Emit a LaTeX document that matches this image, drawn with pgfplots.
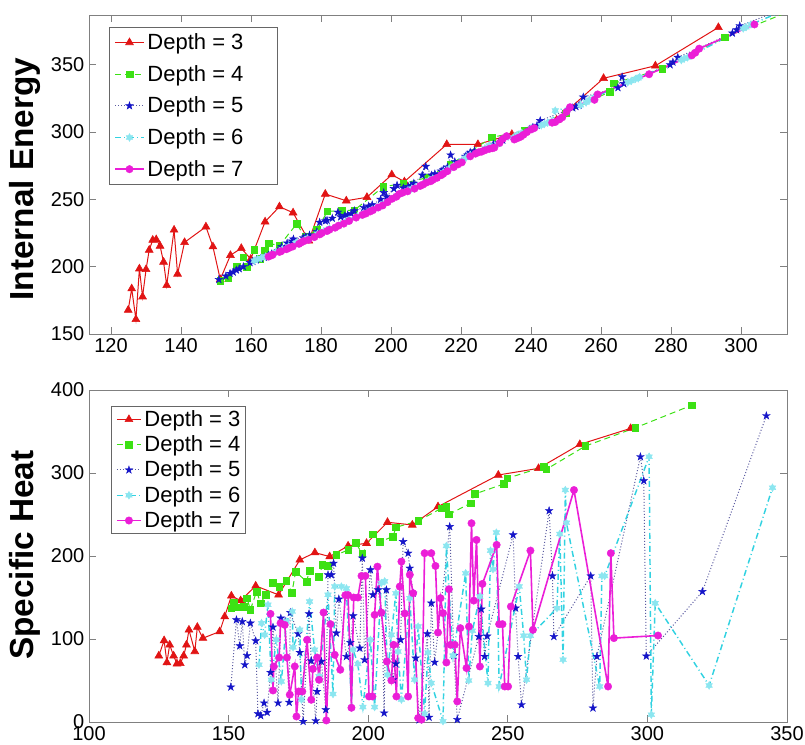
\documentclass[border=0pt]{standalone}
\usepackage{fontspec}
\setmainfont{Liberation Sans}
\usepackage{pgfplots}
\pgfplotsset{compat=1.18}
\usetikzlibrary{plotmarks}

\definecolor{c3}{RGB}{225,20,20}
\definecolor{c4}{RGB}{60,225,20}
\definecolor{c5}{RGB}{20,20,200}
\definecolor{c5l}{RGB}{90,90,160}
\definecolor{c6}{RGB}{140,230,240}
\definecolor{c6l}{RGB}{50,210,225}
\definecolor{c7}{RGB}{235,30,215}
\definecolor{axgray}{RGB}{128,128,128}

% MATLAB style pentagram / hexagram markers
\pgfdeclareplotmark{pstar}{%
  \pgfpathmoveto{\pgfpointpolar{90}{\pgfplotmarksize}}%
  \pgfpathlineto{\pgfpointpolar{126}{0.382\pgfplotmarksize}}%
  \pgfpathlineto{\pgfpointpolar{162}{\pgfplotmarksize}}%
  \pgfpathlineto{\pgfpointpolar{198}{0.382\pgfplotmarksize}}%
  \pgfpathlineto{\pgfpointpolar{234}{\pgfplotmarksize}}%
  \pgfpathlineto{\pgfpointpolar{270}{0.382\pgfplotmarksize}}%
  \pgfpathlineto{\pgfpointpolar{306}{\pgfplotmarksize}}%
  \pgfpathlineto{\pgfpointpolar{342}{0.382\pgfplotmarksize}}%
  \pgfpathlineto{\pgfpointpolar{18}{\pgfplotmarksize}}%
  \pgfpathlineto{\pgfpointpolar{54}{0.382\pgfplotmarksize}}%
  \pgfpathclose
  \pgfusepathqfillstroke}
\pgfdeclareplotmark{hstar}{%
  \pgfpathmoveto{\pgfpointpolar{90}{\pgfplotmarksize}}%
  \pgfpathlineto{\pgfpointpolar{120}{0.577\pgfplotmarksize}}%
  \pgfpathlineto{\pgfpointpolar{150}{\pgfplotmarksize}}%
  \pgfpathlineto{\pgfpointpolar{180}{0.577\pgfplotmarksize}}%
  \pgfpathlineto{\pgfpointpolar{210}{\pgfplotmarksize}}%
  \pgfpathlineto{\pgfpointpolar{240}{0.577\pgfplotmarksize}}%
  \pgfpathlineto{\pgfpointpolar{270}{\pgfplotmarksize}}%
  \pgfpathlineto{\pgfpointpolar{300}{0.577\pgfplotmarksize}}%
  \pgfpathlineto{\pgfpointpolar{330}{\pgfplotmarksize}}%
  \pgfpathlineto{\pgfpointpolar{0}{0.577\pgfplotmarksize}}%
  \pgfpathlineto{\pgfpointpolar{30}{\pgfplotmarksize}}%
  \pgfpathlineto{\pgfpointpolar{60}{0.577\pgfplotmarksize}}%
  \pgfpathclose
  \pgfusepathqfillstroke}

\pgfplotsset{
  chart/.style={
    scale only axis, width=523.5pt,
    axis line style={draw=axgray, line width=0.75pt},
    tick style={draw=axgray, line width=0.75pt},
    major tick length=5pt, tick align=inside, tick pos=both,
    ticklabel style={font=\fontsize{15}{15}\selectfont, text=black},
    /pgf/number format/assume math mode=true,
    legend cell align=left,
    legend style={draw=axgray!80!black, line width=0.75pt, fill=white,
      font=\fontsize{16.5}{16.5}\selectfont, anchor=north west,
      nodes={inner sep=0pt}, column sep=2pt, inner xsep=3.5pt},
  },
  d3/.style={color=c3, line width=0.75pt, mark=triangle*, mark size=3.4pt,
    mark options={solid, line width=0.4pt}},
  d4/.style={color=c4, line width=0.75pt, dash pattern=on 4.5pt off 3pt,
    mark=square*, mark size=2.5pt, mark options={solid, line width=0.4pt}},
  d5/.style={color=c5l, line width=0.75pt, dash pattern=on 0.75pt off 1.5pt,
    mark=pstar, mark size=3pt, mark options={solid, fill=c5, draw=c5, line width=0.3pt}},
  d6/.style={color=c6l, line width=1.1pt, dash pattern=on 4.5pt off 2.25pt on 0.75pt off 2.25pt,
    mark=hstar, mark size=2.9pt, mark options={solid, fill=c6, draw=c6, line width=0.3pt}},
  d7/.style={color=c7, line width=1.2pt, mark=*, mark size=2.8pt,
    mark options={solid, line width=0.3pt}},
}

\begin{document}
\begin{tikzpicture}
\useasboundingbox (0pt,0pt) rectangle (603.75pt,-558pt);

\node[rotate=90, font=\fontsize{25}{25}\selectfont\bfseries] at (18.4pt,-134.25pt) {Internal Energy};
\node[rotate=90, font=\fontsize{25}{25}\selectfont\bfseries] at (18.4pt,-416.25pt) {Specific Heat};

% ---------- top: internal energy ----------
\begin{axis}[chart, at={(66.75pt,-11.25pt)}, anchor=north west, height=239.25pt,
  xmin=113.7, xmax=313.1, ymin=150, ymax=387,
  xtick={120,140,...,300}, ytick={150,200,...,350},
  legend style={at={(0.0287,0.9624)}, row sep=10.3pt, inner ysep=4.5pt},
  legend image code/.code={\draw[mark repeat=2,mark phase=2] plot coordinates {(0pt,0pt) (10.875pt,0pt) (21.75pt,0pt)};}]
\addplot[d3] coordinates {
(124.9,167.8)(125.9,183.7)(127.1,160.9)(128.1,198.5)(129.0,177.7)(130.0,198.0)(130.9,212.4)
(131.9,219.8)(132.9,220.2)(134.0,215.4)(135.0,203.5)(135.9,186.2)(138.0,227.3)(139.0,194.6)
(141.0,218.1)(147.1,229.7)(149.1,214.9)(151.2,190.6)(154.1,208.5)(157.2,213.7)(159.9,205.7)
(164.0,233.4)(168.1,244.6)(172.0,240.1)(176.5,219.3)(181.2,254.0)(187.2,249.0)(193.1,251.6)
(200.2,268.4)(203.8,263.2)(215.9,290.9)(224.8,290.9)(234.5,298.4)(247.3,309.0)(260.7,340.0)
(275.5,349.3)(293.5,377.8)};
\addlegendentry{Depth = 3\hspace*{22pt}}
\addplot[d4] coordinates {
(151.2,189.8)(153.5,192)(155.9,200)(157.8,207)(158.8,200)(160.9,212.4)(162.5,206)(163.9,212)
(165.0,217.4)(168.1,215.7)(173.0,231.7)(175.5,222)(178.8,227.3)(181.8,241.1)(185.9,241.6)
(189.5,242)(197.8,259.4)(203.5,261.9)(210,266)(217,276)(228.8,296.1)(238,301)(249.9,314)
(262.4,330)(263.7,336.3)(277.5,346.9)(295.4,370.4)(316.0,392.0)};
\addlegendentry{Depth = 4\hspace*{22pt}}
\addplot[d5] coordinates {
(150.8,190.5)(152.8,193)(154.0,195)(154.9,196)(155.8,197.5)(156.6,198.5)(157.8,200)(159.7,203)
(160.5,204)(161.5,205)(162.7,206)(163.8,207)(165.0,208.5)(165.9,209.5)(167.7,212)(168.7,215)
(170.3,217.5)(171.7,219)(172.1,220.5)(174.9,221.5)(175.5,222)(176.7,223.5)(178.8,226)(179.6,233)
(181.2,234)(181.7,234.5)(183.2,236)(184.8,240.5)(185.6,237)(186.8,238)(187.6,238.5)(188.6,239.5)
(189.5,241.5)(192.2,244)(193.6,245)(194.6,246)(197.0,250)(197.9,255)(198.7,252)(200.8,258)
(201.7,260.5)(203.5,258.5)(204.9,259.5)(205.7,260.5)(206.5,262)(208.9,268)(209.9,274.5)
(211.6,268)(212.5,269)(214.3,271)(214.9,272)(216.1,274)(217.0,283)(218.2,278)(221.2,282)
(221.8,283)(222.6,285)(223.8,286)(229.2,291)(230.7,292)(231.9,294)(239.6,302)(240.5,303.5)
(241.7,305)(242.6,308.5)(251.9,318)(252.8,319)(253.7,320)(254.9,326)(264.8,333)(266.0,341)
(266.5,336)(279.7,350)(280.5,352)(281.9,355.5)(297.5,373.5)(298.7,376)(299.6,379)(319.7,399)
(342.6,426)};
\addlegendentry{Depth = 5\hspace*{22pt}}
\addplot[d6] coordinates {
(160.9,204.5)(161.8,205.5)(162.9,206.5)(164.1,207.5)(165.3,208.5)(167.1,211)(168.9,213)
(170.7,215)(172.8,217.5)(173.1,218)(175.5,220)(176.1,221)(179.0,224.5)(180.8,226.5)(182.4,228.5)
(185.6,231.5)(187.4,234)(188.0,235)(190.4,237.5)(192.2,239.5)(194.0,241.5)(194.6,242.5)
(196.3,244)(198.1,247)(200.8,251.5)(202.3,253.5)(204.7,256.5)(205.9,258)(206.9,259)(208.3,260.5)
(209.9,262.5)(210.7,264)(211.9,265.5)(214.9,270)(216.6,273)(217.9,275)(220.2,279)(221.4,281)
(222.6,283)(226.8,288)(228.0,290)(230.4,291)(234.9,296)(236.0,298)(237.3,299.5)(240.0,303)
(242.9,305)(243.8,306)(244.7,307)(245.9,308)(246.9,316)(254.1,320)(255.7,322)(256.7,324)
(258.1,326)(267.6,337)(268.6,338)(269.8,339.5)(270.6,340)(271.0,341)(282.9,353.5)(283.7,354.5)
(284.7,355.5)(300.6,377)(301.4,378)(302.8,380)(322.1,401)(344.8,428)};
\addlegendentry{Depth = 6\hspace*{22pt}}
\addplot[d7] coordinates {
(165.0,207.5)(165.9,208.5)(166.2,209)(168.1,211)(168.6,211.5)(170.1,213)(170.9,214)(171.9,215)
(173.7,217)(174.3,218)(175.1,219)(176.4,220)(178.1,222)(179.6,224)(180.2,225)(181.7,226.5)
(182.4,227.5)(184.0,229)(185.0,230.5)(186.5,232)(188.0,234)(190.0,236.5)(191.8,238.5)(192.8,239.5)
(194.0,241)(194.8,242)(196.3,244)(197.6,245.5)(199.0,248)(200.3,250.5)(201.5,252)(202.3,254)
(203.3,255)(204.7,256)(206.7,258)(208.3,260)(209.1,261)(210.1,262.5)(211.3,263.5)(211.9,264.5)
(213.1,266)(214.3,268)(214.9,269)(216.1,271)(217.9,274)(219.1,276)(220.2,277.5)(222.6,282)
(224.1,284)(225.0,285)(225.9,285.5)(226.8,286.5)(228.0,287.5)(228.9,288)(229.5,288.5)(231.0,292)
(231.9,295)(233.0,297)(235.2,294.5)(236.1,295.5)(237.0,296.5)(237.8,298)(238.8,300)(240.0,302)
(240.9,303)(246.0,307)(246.9,307.5)(248.1,309.5)(248.9,311)(250.1,315)(251.1,318.5)(258.1,324)
(259.0,328)(273.7,343)(285.9,357)(286.9,359)(288.0,362)(303.8,380)};
\addlegendentry{Depth = 7\hspace*{22pt}}
\end{axis}

% ---------- bottom: specific heat ----------
\begin{axis}[chart, at={(66.75pt,-292.5pt)}, anchor=north west, height=249pt,
  xmin=100, xmax=350, ymin=0, ymax=400,
  xtick={100,150,...,350}, ytick={0,100,...,400},
  legend style={at={(0.0315,0.952)}, row sep=5.5pt, inner ysep=3pt},
  legend image code/.code={\draw[mark repeat=2,mark phase=2] plot coordinates {(0pt,0pt) (9pt,0pt) (18pt,0pt)};}]
\addplot[d3] coordinates {
(125.0,79.8)(126.9,98.2)(127.9,71.7)(128.9,93)(130.3,79.8)(131.5,70.2)(132.7,70.6)(133.9,79.8)
(134.9,93)(135.8,111)(137.9,85)(138.8,114.3)(140.8,101)(146.8,109)(148.6,127)(151.0,152)
(154.3,146.3)(159.7,164)(167.9,153.2)(175.5,195.3)(180.9,204.1)(186.2,199.3)(192.8,212.2)
(199.4,215.4)(206.9,240.7)(215.8,237.4)(225.0,259.5)(246.6,297.6)(261.0,305.6)(275.8,334.5)
(294.0,353.8)};
\addlegendentry{Depth = 3}
\addplot[d4] coordinates {
(151.0,137.2)(151.8,144)(153.7,138.4)(155.4,138.8)(156.6,149.2)(157.8,135.1)(160.0,157.2)
(161.5,143.2)(163.3,153.2)(165.9,168)(168.1,163.2)(170.7,170)(172.7,156)(174.0,181.2)(177.9,169.2)
(179.0,182.4)(182.4,175.2)(183.6,189.3)(185.6,188.1)(188.6,201.3)(192.8,207.3)(195.5,216.1)
(197.9,202.5)(201.7,226.2)(204.1,217.3)(208.9,223.3)(209.9,234.6)(217.9,242.2)(226.2,257.5)
(228.0,259.5)(228.9,250.3)(236.7,263.5)(238.1,274.7)(248.6,286.8)(249.8,293.6)(262.9,307.6)
(263.8,304.5)(277.8,332.5)(295.7,354.5)(316.0,381.8)};
\addlegendentry{Depth = 4}
\addplot[d5] coordinates {
(150.8,42.1)(152.8,123.1)(154.0,91.8)(154.9,121.1)(155.8,69)(156.6,80.1)(157.8,119.1)(159.7,97.8)
(160.5,10)(161.5,7.6)(162.7,22.9)(163.8,11.6)(165.0,59.7)(165.9,114.3)(167.7,22.9)(168.7,125.1)
(170.3,121.1)(171.7,23.7)(172.1,131.9)(174.9,106.3)(175.5,83.8)(176.7,0.7)(178.8,130.3)(179.6,73.8)
(181.2,1.5)(181.7,36.8)(183.2,73)(184.8,14.8)(185.6,177.3)(186.8,177.3)(187.6,191.3)(188.6,107.1)
(189.5,148)(192.2,78.9)(193.6,95.8)(194.6,127.9)(197.0,89)(197.9,197.4)(198.7,75)(200.8,183.3)
(201.7,153.2)(203.5,159.2)(204.9,131.2)(205.7,10.8)(206.5,159.2)(208.9,50.9)(209.9,70.2)
(211.6,99)(212.5,217.3)(214.3,203.4)(214.9,185.3)(216.1,155.2)(217.0,77)(218.2,2.5)(221.2,106.3)
(221.8,5.7)(222.6,143.2)(223.8,72)(229.2,235.4)(230.7,80.1)(231.9,3)(239.6,103)(240.5,136)
(241.7,79)(242.6,103.5)(251.9,225.4)(252.8,137.2)(253.7,79)(254.9,20.8)(264.8,254.6)(266.0,176)
(266.5,103)(279.7,176)(280.5,16.8)(281.9,79)(297.5,319.6)(298.7,290.7)(299.6,79.4)(319.7,157.2)
(342.6,369)};
\addlegendentry{Depth = 5}
\addplot[d6] coordinates {
(160.9,69)(161.8,119.1)(162.9,105)(164.1,141.2)(165.3,50.9)(167.1,99)(168.9,48.9)(170.7,121)
(172.8,133.1)(173.1,90)(175.5,111.1)(176.1,27)(179.0,145.1)(180.8,87)(182.4,55)(185.6,153.2)
(187.4,33.7)(188.0,163.2)(190.4,163.2)(192.2,161)(194.0,17)(194.6,87)(196.3,70)(198.1,18)
(200.8,99)(202.3,18)(204.7,167.5)(205.9,169.5)(206.9,56.9)(208.3,105)(209.9,155.2)(210.7,85)
(211.9,27)(214.9,149.2)(216.6,50.9)(217.9,115)(220.2,10)(221.4,83.8)(222.6,46.9)(226.8,1)
(228.0,212.2)(230.4,80)(234.9,179.3)(236.0,50.1)(237.3,110)(240.0,151.1)(242.9,46.9)(243.8,206.5)
(244.7,184.1)(245.9,228.2)(246.9,42.8)(254.1,163.2)(255.7,103.9)(256.7,50.9)(258.1,104)
(267.6,137.2)(268.6,226.6)(269.8,75)(270.6,279.5)(271.0,240)(282.9,42.8)(283.7,176)(284.7,176)
(300.6,319.6)(301.4,8.8)(302.8,143.2)(322.1,44)(344.8,282.3)};
\addlegendentry{Depth = 6}
\addplot[d7] coordinates {
(165.0,130.3)(165.9,38)(166.2,66.9)(168.1,77.7)(168.6,119.1)(170.1,117)(170.9,77.7)(171.9,32.9)
(173.7,67)(174.3,6.7)(175.1,36.8)(176.4,36.8)(178.1,99)(179.6,26.8)(180.2,64)(181.7,77.7)
(182.4,50.9)(184.0,131.9)(185.0,1.9)(186.5,117.9)(188.0,81)(190.0,63)(191.8,152.8)(192.8,153)
(194.0,17.2)(194.8,150)(196.3,150)(197.6,176)(199.0,176)(200.3,30.8)(201.5,30.8)(202.3,129.1)
(203.3,187.2)(204.7,131.9)(206.7,72.9)(208.3,50.1)(209.1,93)(210.1,30.8)(211.3,163.2)(211.9,193.3)
(213.1,130.7)(214.3,30.8)(214.9,177.4)(216.1,155.2)(217.9,4.8)(219.1,2.9)(220.2,203.4)(222.6,203.4)
(224.1,188)(225.0,107.8)(225.9,149.2)(226.8,131.2)(228.0,71.7)(228.9,160)(229.5,93)(231.0,93)
(231.9,24.8)(233.0,113.1)(235.2,65)(236.1,115)(237.0,239.5)(237.8,146.3)(238.8,219.4)(240.0,66.9)
(240.9,166.4)(246.0,213.4)(246.9,117.9)(248.1,117.9)(248.9,42.8)(250.1,42.8)(251.1,139.1)
(258.1,206.5)(259.0,111.1)(273.7,279.5)(285.9,42.8)(286.9,203.4)(288.0,101.1)(303.8,104.2)};
\addlegendentry{Depth = 7}
\end{axis}
\end{tikzpicture}
\end{document}
